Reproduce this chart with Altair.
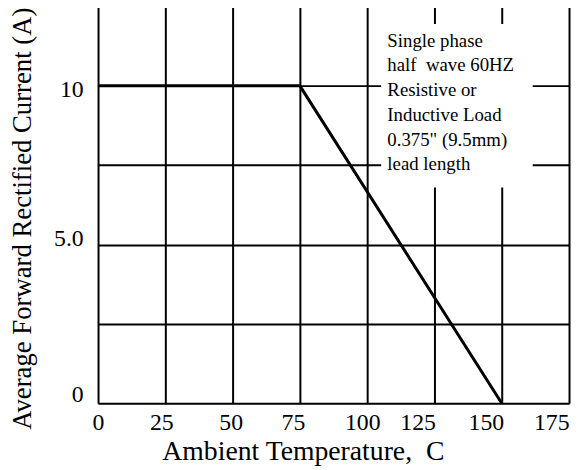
import altair as alt
import pandas as pd

# Derating curve
temp = [0, 75, 150]
current = [10, 10, 0]

x_ticks = [0, 25, 50, 75, 100, 125, 150, 175]
y_grid = [0, 2.5, 5, 7.5, 10, 12.5]

note_lines = ["Single phase", "half\u00a0 wave 60HZ", "Resistive or",
              "Inductive Load", "0.375\" (9.5mm)", "lead length"]

FONT = "'Liberation Serif', 'Times New Roman', Times, 'DejaVu Serif', serif"

df = pd.DataFrame({"t": temp, "i": current})

xscale = alt.Scale(domain=[0, 175], nice=False, zero=False)
yscale = alt.Scale(domain=[0, 12.5], nice=False, zero=False)

x_label_offset = {
    "condition": [
        {"test": "datum.value == 25", "value": -4},
        {"test": "datum.value == 50", "value": -2},
        {"test": "datum.value == 75", "value": -7},
        {"test": "datum.value == 100", "value": -5},
        {"test": "datum.value == 125", "value": -17},
        {"test": "datum.value == 150", "value": -16},
        {"test": "datum.value == 175", "value": -18},
    ],
    "value": 0,
}
y_label_offset = {
    "condition": [
        {"test": "datum.value == 0", "value": -9},
        {"test": "datum.value == 5", "value": -6},
        {"test": "datum.value == 10", "value": 4},
    ],
    "value": 0,
}

line = alt.Chart(df).mark_line(color="black", strokeWidth=3).encode(
    x=alt.X("t:Q", scale=xscale,
            axis=alt.Axis(values=x_ticks, title="Ambient Temperature,\u00a0 C",
                          grid=True, gridColor="black", gridWidth=2, gridOpacity=1,
                          ticks=False, domain=False, labelPadding=8, labelFlush=False,
                          labelOffset=x_label_offset,
                          labelFont=FONT, labelFontSize=24, labelColor="black",
                          titleFont=FONT, titleFontSize=28, titleFontWeight="normal",
                          titleColor="black", titleX=207, titleY=57,
                          titleBaseline="alphabetic")),
    y=alt.Y("i:Q", scale=yscale,
            axis=alt.Axis(values=y_grid, title="Average Forward Rectified Current (A)",
                          labelExpr="datum.value == 0 ? '0' : datum.value == 5 ? '5.0' : datum.value == 10 ? '10' : ''",
                          grid=True, gridColor="black", gridWidth=2, gridOpacity=1,
                          ticks=False, domain=False, labelPadding=15, labelFlush=False,
                          labelOffset=y_label_offset,
                          labelFont=FONT, labelFontSize=24, labelColor="black",
                          titleFont=FONT, titleFontSize=27, titleFontWeight="normal",
                          titleColor="black", titleX=-62, titleY=214,
                          titleAlign="center", titleBaseline="bottom")),
)

box = alt.Chart(pd.DataFrame({"a": [0]})).mark_rect(fill="white").encode(
    x=alt.datum(105.2, scale=xscale), x2=alt.datum(161.5),
    y=alt.datum(11.95, scale=yscale), y2=alt.datum(6.8),
)

note = alt.Chart(pd.DataFrame({"a": [0]})).mark_text(
    align="left", baseline="top", font=FONT, fontSize=19, lineHeight=25, color="black"
).encode(
    x=alt.datum(107.5, scale=xscale), y=alt.datum(11.7, scale=yscale),
    text=alt.value(note_lines),
)

chart = alt.layer(box, line, note).properties(
    width=476, height=401,
    autosize=alt.AutoSizeParams(type="none"),
    padding={"left": 91, "top": -4, "right": 2, "bottom": 65},
).configure_view(stroke="black", strokeWidth=2).configure(background="white")

chart.save("out.html", embed_options={"renderer": "svg", "actions": False})
